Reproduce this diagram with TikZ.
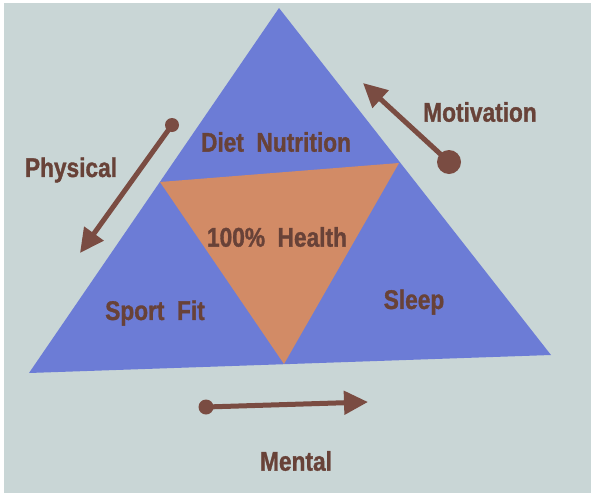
\documentclass[tikz,border=0pt]{standalone}
\usepackage{fontspec}
\newfontfamily\lblfont[FakeStretch=0.84,FakeBold=1.2]{Liberation Sans}
\usetikzlibrary{arrows.meta}
\definecolor{bgc}{RGB}{201,214,214}
\definecolor{tblue}{RGB}{108,124,214}
\definecolor{torange}{RGB}{210,139,102}
\definecolor{abrown}{RGB}{122,76,66}
\definecolor{tbrown}{RGB}{104,66,56}
\tikzset{
  lbl/.style={font=\lblfont\bfseries\fontsize{27}{30}\selectfont, text=tbrown, inner sep=0pt},
  flow/.style={draw=abrown, line width=5pt, -{Triangle[length=24pt,width=23pt]}},
  knob/.style={fill=abrown}
}
\begin{document}
\begin{tikzpicture}[x=1pt,y=-1pt]
\useasboundingbox (0,0) rectangle (594,501);
\fill[white] (0,0) rectangle (594,501);
\fill[bgc] (4,3) rectangle (591,493);
% triangle corners
\coordinate (apex) at (279,8);
\coordinate (bl) at (29,373);
\coordinate (br) at (551,355);
\coordinate (ol) at (160,182);
\coordinate (or) at (399,163);
\coordinate (ob) at (284,364);
\fill[tblue] (apex) -- (br) -- (bl) -- cycle;
\fill[torange] (ol) -- (or) -- (ob) -- cycle;
% labels
\node[lbl] (diet) at (276,142) {Diet\ \ Nutrition};
\node[lbl] (health) at (277,237) {100\%\ \ Health};
\node[lbl] (sport) at (155,313) {Sport\ \ Fit};
\node[lbl] (sleep) at (414,302) {Sleep};
\node[lbl] (phys) at (71,170) {Physical};
\node[lbl] (motiv) at (480,112) {Motivation};
\node[lbl] (mental) at (296,461) {Mental};
% arrows
\coordinate (p0) at (172,125);
\coordinate (p1) at (80,253);
\coordinate (m0) at (449,162);
\coordinate (m1) at (363,83);
\coordinate (n0) at (206,407);
\coordinate (n1) at (368,402);
\draw[flow] (p0) -- (p1);
\fill[knob] (p0) circle (7);
\draw[flow] (m0) -- (m1);
\fill[knob] (m0) circle (12);
\draw[flow] (n0) -- (n1);
\fill[knob] (n0) circle (7.5);
\end{tikzpicture}
\end{document}
